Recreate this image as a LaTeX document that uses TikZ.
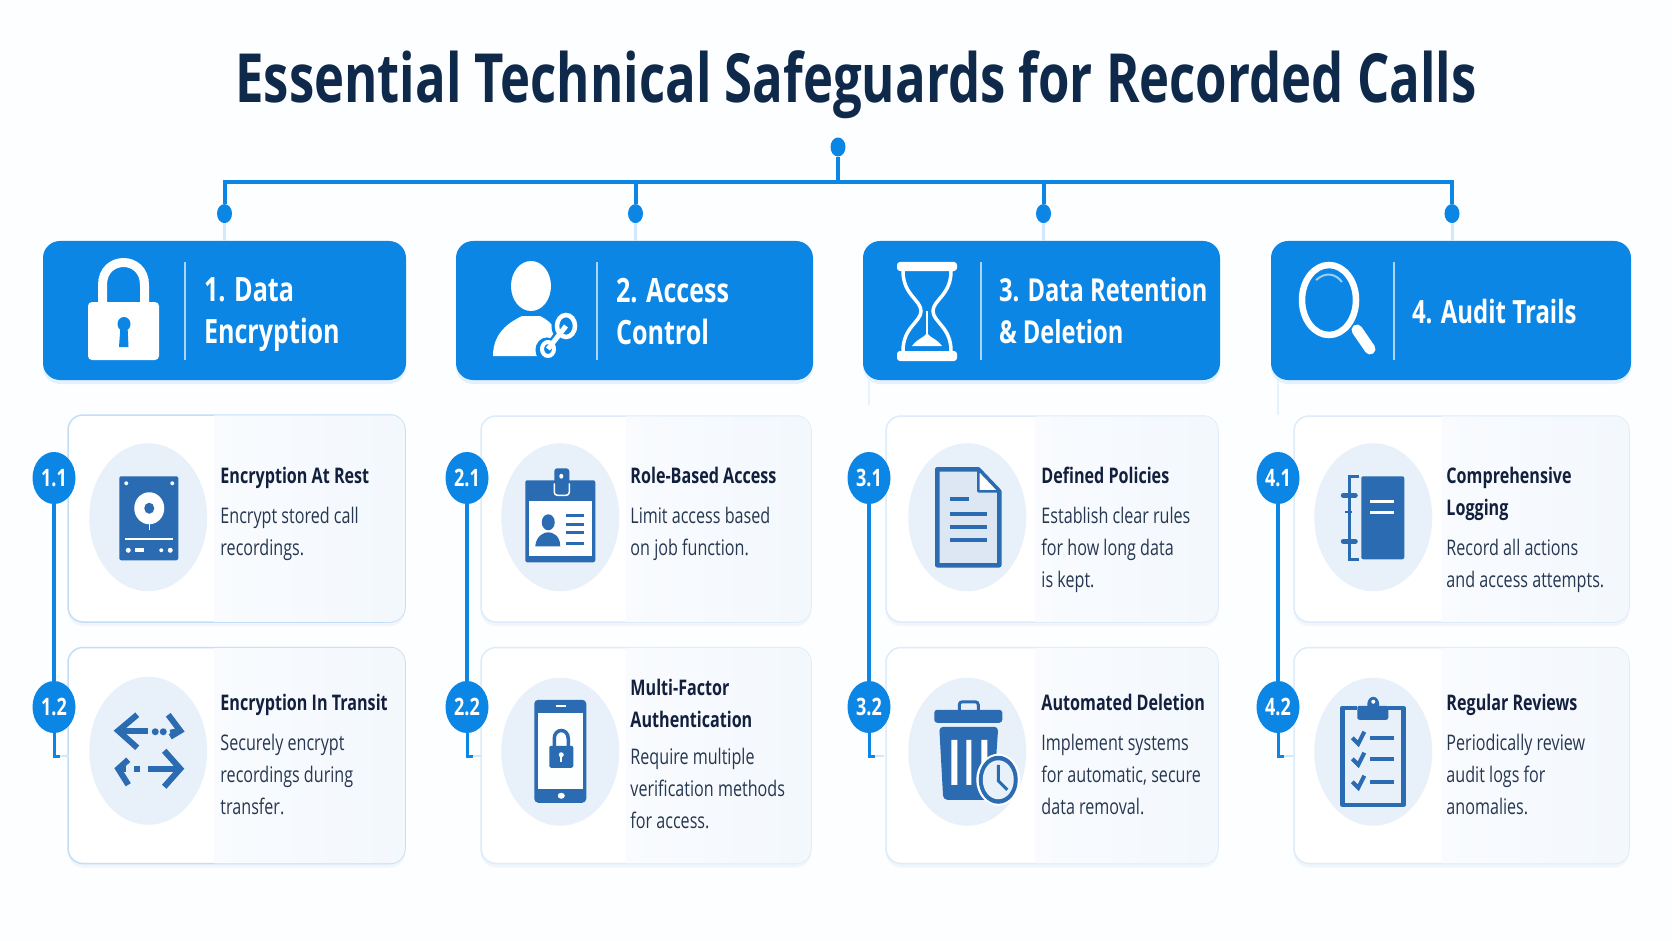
\documentclass[tikz,border=0pt]{standalone}
\usepackage{fontspec}
\setmainfont[FakeStretch=0.75]{Open Sans}
\usetikzlibrary{shapes.geometric, positioning, calc, shadows}
\definecolor{headblue}{RGB}{11, 134, 229}
\definecolor{iconblue}{RGB}{42, 107, 178}
\definecolor{discblue}{RGB}{232, 241, 250}
\definecolor{cardtint}{RGB}{243, 248, 253}
\definecolor{cardtintleft}{RGB}{249, 251, 254}
\definecolor{cardedge}{RGB}{222, 235, 248}
\definecolor{cardedgestrong}{RGB}{196, 222, 246}
\definecolor{titleink}{RGB}{14, 41, 74}
\definecolor{headink}{RGB}{18, 32, 62}
\definecolor{bodyink}{RGB}{38, 55, 80}
\definecolor{paper}{RGB}{253, 254, 255}

\begin{document}
\begin{tikzpicture}[
    x=1pt, y=-1pt,
    headbox/.style={rectangle, fill=headblue, rounded corners=17pt, minimum height=139pt, drop shadow={shadow xshift=0pt, shadow yshift=-4pt, opacity=.1, fill=headblue}},
    headtext/.style={inner sep=0pt, align=left, text=white, font=\fontsize{33.5}{42}\selectfont\bfseries, execute at begin node=\strut, execute at end node=\strut},
    cardbox/.style={rectangle, draw=cardedge, line width=1.5pt, rounded corners=15pt, fill=white, drop shadow={shadow xshift=0pt, shadow yshift=-4pt, opacity=.4, fill=cardedge}},
    tint/.style={left color=cardtintleft, right color=cardtint},
    disc/.style={ellipse, fill=discblue, minimum width=118pt, minimum height=148pt, inner sep=0pt},
    badge/.style={ellipse, fill=headblue, text=white, minimum width=43pt, minimum height=52pt, inner sep=0pt, font=\fontsize{24}{24}\selectfont\bfseries},
    cardhead/.style={inner sep=0pt, align=left, text=headink, font=\fontsize{21.5}{32}\selectfont\bfseries, execute at begin node=\strut, execute at end node=\strut},
    cardbody/.style={inner sep=0pt, align=left, text=bodyink, font=\fontsize{21.5}{32}\selectfont, execute at begin node=\strut, execute at end node=\strut},
    treeline/.style={draw=headblue, line width=4pt},
    faintline/.style={draw=headblue!18, line width=3pt},
    sideline/.style={draw=headblue, line width=3.5pt},
    sepline/.style={draw=white!65!headblue, line width=1.5pt},
    dotnode/.style={ellipse, fill=headblue, minimum width=15pt, minimum height=19pt, inner sep=0pt},
    iconline/.style={draw=iconblue, line width=3.5pt},
    iconfill/.style={fill=iconblue},
    whiteline/.style={draw=white, line width=3pt}
]
\fill[paper] (0,0) rectangle (1672,941);
\useasboundingbox (0,0) rectangle (1672,941);

% ========== TITLE ==========
\node[text=titleink, font=\fontsize{67.8}{68}\selectfont\bfseries, inner sep=0pt] (title) at (856,85) {Essential Technical Safeguards for Recorded Calls};

% ========== HEADERS ==========
\node[headbox, minimum width=363pt] (head1) at (224.5,310.5) {};
\node[headbox, minimum width=357pt] (head2) at (634.5,310.5) {};
\node[headbox, minimum width=357pt] (head3) at (1041.5,310.5) {};
\node[headbox, minimum width=360pt] (head4) at (1451,310.5) {};

\node[headtext, below right=37pt and 161pt of head1.north west] (htext1) {1. Data\\Encryption};
\node[headtext, below right=37pt and 160pt of head2.north west] (htext2) {2. Access\\Control};
\node[headtext, below right=36pt and 136pt of head3.north west, font=\fontsize{31.6}{42}\selectfont\bfseries] (htext3) {3. Data Retention\\\& Deletion};
\node[headtext, below right=53pt and 141pt of head4.north west, font=\fontsize{32}{42}\selectfont\bfseries] (htext4) {4. Audit Trails};

\draw[sepline] ($(head1.north west)+(142,21)$) -- ($(head1.south west)+(142,-20)$);
\draw[sepline] ($(head2.north west)+(141,21)$) -- ($(head2.south west)+(141,-20)$);
\draw[sepline] ($(head3.north west)+(118,21)$) -- ($(head3.south west)+(118,-20)$);
\draw[sepline] ($(head4.north west)+(123,21)$) -- ($(head4.south west)+(123,-20)$);

% ========== TREE ==========
\node[dotnode] (rootdot) at (838,147) {};
\coordinate (bus) at (838,182);
\node[dotnode, above=17.5pt of head1] (dot1) {};
\node[dotnode, above=17.5pt of head2, xshift=1pt] (dot2) {};
\node[dotnode, above=17.5pt of head3, xshift=2pt] (dot3) {};
\node[dotnode, above=17.5pt of head4, xshift=1pt] (dot4) {};

\draw[faintline] (dot1.south) -- (dot1 |- head1.north);
\draw[faintline] (dot2.south) -- (dot2 |- head2.north);
\draw[faintline] (dot3.south) -- (dot3 |- head3.north);
\draw[faintline] (dot4.south) -- (dot4 |- head4.north);
\draw[treeline] (rootdot) -- (bus);
\draw[treeline] (dot1) -- (dot1 |- bus) -- (dot4 |- bus) -- (dot4);
\draw[treeline] (dot2) -- (dot2 |- bus);
\draw[treeline] (dot3) -- (dot3 |- bus);

% ========== CARDS ==========
\node[cardbox, draw=cardedgestrong, minimum width=337pt, minimum height=207pt] (card11) at (236.5,518.5) {};
\node[cardbox, draw=cardedgestrong, minimum width=337pt, minimum height=216pt, below=24pt of card11] (card12) {};
\node[cardbox, minimum width=330pt, minimum height=206pt] (card21) at (646,519) {};
\node[cardbox, minimum width=330pt, minimum height=216pt, below=24pt of card21] (card22) {};
\node[cardbox, minimum width=332pt, minimum height=206pt] (card31) at (1052,519) {};
\node[cardbox, minimum width=332pt, minimum height=216pt, below=24pt of card31] (card32) {};
\node[cardbox, minimum width=335pt, minimum height=206pt] (card41) at (1461.5,519) {};
\node[cardbox, minimum width=335pt, minimum height=216pt, below=24pt of card41] (card42) {};

% tinted right parts
\shade[tint] ($(card11.north west)+(147,1)$) [rounded corners=14pt] -- ($(card11.north east)+(-1,1)$) -- ($(card11.south east)+(-1,-1)$) [sharp corners] -- ($(card11.south west)+(147,-1)$) -- cycle;
\shade[tint] ($(card12.north west)+(147,1)$) [rounded corners=14pt] -- ($(card12.north east)+(-1,1)$) -- ($(card12.south east)+(-1,-1)$) [sharp corners] -- ($(card12.south west)+(147,-1)$) -- cycle;
\shade[tint] ($(card21.north west)+(146,1)$) [rounded corners=14pt] -- ($(card21.north east)+(-1,1)$) -- ($(card21.south east)+(-1,-1)$) [sharp corners] -- ($(card21.south west)+(146,-1)$) -- cycle;
\shade[tint] ($(card22.north west)+(146,1)$) [rounded corners=14pt] -- ($(card22.north east)+(-1,1)$) -- ($(card22.south east)+(-1,-1)$) [sharp corners] -- ($(card22.south west)+(146,-1)$) -- cycle;
\shade[tint] ($(card31.north west)+(150,1)$) [rounded corners=14pt] -- ($(card31.north east)+(-1,1)$) -- ($(card31.south east)+(-1,-1)$) [sharp corners] -- ($(card31.south west)+(150,-1)$) -- cycle;
\shade[tint] ($(card32.north west)+(150,1)$) [rounded corners=14pt] -- ($(card32.north east)+(-1,1)$) -- ($(card32.south east)+(-1,-1)$) [sharp corners] -- ($(card32.south west)+(150,-1)$) -- cycle;
\shade[tint] ($(card41.north west)+(149,1)$) [rounded corners=14pt] -- ($(card41.north east)+(-1,1)$) -- ($(card41.south east)+(-1,-1)$) [sharp corners] -- ($(card41.south west)+(149,-1)$) -- cycle;
\shade[tint] ($(card42.north west)+(149,1)$) [rounded corners=14pt] -- ($(card42.north east)+(-1,1)$) -- ($(card42.south east)+(-1,-1)$) [sharp corners] -- ($(card42.south west)+(149,-1)$) -- cycle;

% ========== DISCS ==========
\node[disc] (disc11) at ($(card11.north west)+(81,103)$) {};
\node[disc] (disc12) at ($(card12.north west)+(81,104)$) {};
\node[disc] (disc21) at ($(card21.north west)+(80,102)$) {};
\node[disc] (disc22) at ($(card22.north west)+(80,105)$) {};
\node[disc] (disc31) at ($(card31.north west)+(82,102)$) {};
\node[disc] (disc32) at ($(card32.north west)+(82,105)$) {};
\node[disc] (disc41) at ($(card41.north west)+(80,102)$) {};
\node[disc] (disc42) at ($(card42.north west)+(80,105)$) {};

% ========== CARD TEXT ==========
\node[cardhead, below right=46.6pt and 153pt of card11.north west] (chead11) {Encryption At Rest};
\node[cardbody, below=14pt of chead11.south west, anchor=north west] (cbody11) {Encrypt stored call\\recordings.};
\node[cardhead, below right=41pt and 153pt of card12.north west] (chead12) {Encryption In Transit};
\node[cardbody, below=14pt of chead12.south west, anchor=north west] (cbody12) {Securely encrypt\\recordings during\\transfer.};

\node[cardhead, below right=45.6pt and 150pt of card21.north west] (chead21) {Role-Based Access};
\node[cardbody, below=14pt of chead21.south west, anchor=north west] (cbody21) {Limit access based\\on job function.};
\node[cardhead, below right=32pt and 150pt of card22.north west] (chead22) {Multi-Factor\\Authentication};
\node[cardbody, below=11pt of chead22.south west, anchor=north west] (cbody22) {Require multiple\\verification methods\\for access.};

\node[cardhead, below right=45.6pt and 156pt of card31.north west] (chead31) {Defined Policies};
\node[cardbody, below=14pt of chead31.south west, anchor=north west] (cbody31) {Establish clear rules\\for how long data\\is kept.};
\node[cardhead, below right=41pt and 156pt of card32.north west] (chead32) {Automated Deletion};
\node[cardbody, below=14pt of chead32.south west, anchor=north west] (cbody32) {Implement systems\\for automatic, secure\\data removal.};

\node[cardhead, below right=51.6pt and 153pt of card41.north west] (chead41) {Comprehensive\\Logging};
\node[cardbody, below=14pt of chead41.south west, anchor=north west] (cbody41) {Record all actions\\and access attempts.};
\node[cardhead, below right=41pt and 153pt of card42.north west] (chead42) {Regular Reviews};
\node[cardbody, below=14pt of chead42.south west, anchor=north west] (cbody42) {Periodically review\\audit logs for\\anomalies.};

% ========== BADGES ==========
\node[badge] (badge11) at (54,478) {1.1};
\node[badge] (badge12) at (54,707) {1.2};
\node[badge] (badge21) at (467,478) {2.1};
\node[badge] (badge22) at (467,707) {2.2};
\node[badge] (badge31) at (869,478) {3.1};
\node[badge] (badge32) at (869,707) {3.2};
\node[badge] (badge41) at (1278,478) {4.1};
\node[badge] (badge42) at (1278,707) {4.2};

\coordinate (foot1) at (60,756);
\coordinate (foot2) at (473,756);
\coordinate (foot3) at (875,756);
\coordinate (foot4) at (1284,756);

\draw[sideline] (badge11.south) -- (badge12.north);
\draw[sideline] (badge21.south) -- (badge22.north);
\draw[sideline] (badge31.south) -- (badge32.north);
\draw[sideline] (badge41.south) -- (badge42.north);
\draw[faintline, line width=2pt] (foot1) -- ++(9,0);
\draw[faintline, line width=2pt] (foot2) -- ++(9,0);
\draw[faintline, line width=2pt] (foot3) -- ++(9,0);
\draw[faintline, line width=2pt] (foot4) -- ++(9,0);
\draw[sideline, line width=3pt] (badge12.south) |- (foot1);
\draw[sideline, line width=3pt] (badge22.south) |- (foot2);
\draw[sideline, line width=3pt] (badge32.south) |- (foot3);
\draw[sideline, line width=3pt] (badge42.south) |- (foot4);
\draw[faintline, line width=2pt, headblue!10] (badge31.north |- head3.south) -- ++(0,25);
\draw[faintline, line width=2pt, headblue!10] (badge41.north |- head4.south) -- ++(0,35);

% ========== HEADER ICONS ==========
% padlock
\fill[white, rounded corners=4pt] (88,302) rectangle (159,360);
\draw[white, line width=9pt] (102.5,304) -- (102.5,285) .. controls (102.5,255) and (144.5,255) .. (144.5,285) -- (144.5,304);
\fill[headblue] (124,324) ellipse [x radius=6.5, y radius=7];
\fill[headblue] (120.5,326) -- (127.5,326) -- (128.5,347) -- (119,347) -- cycle;

% person with key
\fill[white] (531,286) ellipse [x radius=20, y radius=25];
\fill[white] (493,356) .. controls (493,332) and (510,322) .. (522,316) -- (540,316) .. controls (548,320) and (552,324) .. (556,330) -- (538,356) -- cycle;
\draw[headblue, line width=8pt] (566,326) -- (546,350);
\draw[headblue, line width=5pt] (566,326) ellipse [x radius=12, y radius=14];
\draw[headblue, line width=5pt] (547,350) ellipse [x radius=9, y radius=10];
\draw[white, line width=5pt] (566,326) -- (548,349);
\draw[white, line width=4.5pt] (566,326) ellipse [x radius=9, y radius=11];
\draw[white, line width=4pt] (548,349) ellipse [x radius=6, y radius=7];

% hourglass
\fill[white, rounded corners=3pt] (897,262) rectangle (957,271);
\fill[white, rounded corners=3pt] (897,351) rectangle (957,361);
\draw[white, line width=3.5pt] (903,271) .. controls (903,295) and (921,300) .. (921,311) .. controls (921,322) and (903,327) .. (903,351);
\draw[white, line width=3.5pt] (951,271) .. controls (951,295) and (933,300) .. (933,311) .. controls (933,322) and (951,327) .. (951,351);
\fill[white] (912,346) .. controls (918,338) and (924,338) .. (927,333) .. controls (930,338) and (936,338) .. (942,346) -- cycle;
\draw[white, line width=1.5pt] (927,311) -- (927,335);

% magnifier
\draw[white, line width=6.5pt] (1329,300) ellipse [x radius=27, y radius=35];
\draw[white, line width=11pt, line cap=round] (1357,330) -- (1370,349);
\draw[white!60!headblue, line width=2pt] (1316,280) .. controls (1325,272) and (1335,273) .. (1342,282);

% ========== CARD ICONS ==========
% drive
\begin{scope}[shift={(disc11.center)}]
\fill[iconfill, rounded corners=2pt] (-29,-41) rectangle (30,43);
\fill[white] (1,-9) ellipse [x radius=15, y radius=16];
\draw[whiteline, line width=1pt] (1,5) -- (1,13);
\fill[iconblue] (1,-9) ellipse [x radius=5, y radius=5.5];
\draw[whiteline, line width=2pt] (-23,22) -- (25,22);
\fill[white] (-22,-34) circle (2) (24,-34) circle (2) (-20,33) circle (2.5) (13,33) circle (2) (22,33) circle (2.5);
\fill[white] (-13,31) rectangle (-4,35);
\end{scope}

% transfer arrows
\begin{scope}[shift={(disc12.center)}, line width=6pt]
\draw[iconblue] (-11,-36) -- (-30,-20) -- (-11,-3);
\draw[iconblue] (-30,-20) -- (0,-20);
\fill[iconblue] (7,-19) circle (3.5) (15,-19) circle (3.5);
\draw[iconblue] (20,-36) -- (32,-20) -- (22,-14) (22,-18) -- (32,-20);
\draw[iconblue] (-20,9) -- (-30,18) -- (-20,34);
\draw[iconblue] (-30,18) -- (-22,18);
\fill[iconblue] (-14,15) rectangle (-8,21);
\draw[iconblue] (0,18) -- (32,18);
\draw[iconblue] (16,0) -- (32,18) -- (16,36);
\end{scope}

% id badge
\begin{scope}[shift={(disc21.center)}]
\fill[iconfill, rounded corners=2pt] (-35,-37) rectangle (35,45);
\fill[white] (-31,-16) rectangle (32,39);
\fill[iconfill, rounded corners=3pt] (-6,-49) rectangle (9,-22);
\draw[white, line width=1.5pt, rounded corners=3pt] (-6,-34) -- (-6,-22) -- (9,-22) -- (9,-34);
\fill[white] (1,-41) ellipse [x radius=2, y radius=2.5];
\fill[iconblue] (-12,5) ellipse [x radius=6.5, y radius=8];
\fill[iconblue] (-25,29) .. controls (-24,18) and (-16,15) .. (-12,15) .. controls (-8,15) and (0,18) .. (0,29) -- cycle;
\draw[iconline, line width=3pt] (6,-2) -- (24,-2) (6,7) -- (24,7) (6,15.5) -- (24,15.5) (6,26) -- (24,26);
\end{scope}

% phone
\begin{scope}[shift={(disc22.center)}]
\fill[iconfill, rounded corners=4pt] (-26,-52) rectangle (26,51);
\fill[white!92!discblue] (-22,-39) rectangle (23,37);
\draw[whiteline, line width=2pt] (-4,-46) -- (6,-46);
\fill[white] (1,44) ellipse [x radius=3.5, y radius=3];
\draw[iconline, line width=3.5pt] (-6,-6) -- (-6,-13) .. controls (-6,-24) and (8,-24) .. (8,-13) -- (8,-6);
\fill[iconfill, rounded corners=2pt] (-11,-6) rectangle (13,16);
\fill[white] (1,3) circle (2.5);
\draw[whiteline, line width=2pt] (1,3) -- (1,10);
\end{scope}

% document
\begin{scope}[shift={(disc31.center)}]
\filldraw[iconline, line width=4.5pt, fill=discblue!75!iconblue!50!white, line join=round] (-30,-48) -- (11,-48) -- (32,-26) -- (32,48) -- (-30,48) -- cycle;
\filldraw[iconline, fill=white, line width=2.5pt, line join=round] (11,-48) -- (11,-26) -- (32,-26) -- cycle;
\draw[iconline, line width=4pt] (-17,-18) -- (2,-18) (-17,-3) -- (20,-3) (-17,9.5) -- (20,9.5) (-17,23) -- (20,23);
\end{scope}

% bin
\begin{scope}[shift={(disc32.center)}]
\fill[iconfill, rounded corners=3pt] (-33,-42) rectangle (35,-29);
\draw[iconline, line width=3pt, rounded corners=3pt] (-8,-42) -- (-8,-50) -- (11,-50) -- (11,-42);
\fill[iconfill, rounded corners=4pt] (-28,-25) -- (31,-25) -- (26,48) -- (-24,48) -- cycle;
\fill[white] (-16,-12) rectangle (-10,33) (-1,-12) rectangle (4,33) (14,-12) rectangle (20,33);
\fill[white] (31,28) ellipse [x radius=22, y radius=26];
\fill[iconblue] (31,28) ellipse [x radius=19.5, y radius=24];
\fill[discblue] (31,28) ellipse [x radius=15.5, y radius=19.5];
\draw[iconline, line width=3pt] (31,13) -- (31,29) -- (40,38);
\end{scope}

% notebook
\begin{scope}[shift={(disc41.center)}]
\fill[iconfill, rounded corners=2pt] (-12,-41) rectangle (31,42);
\draw[iconline, line width=3pt] (-14,-41) -- (-24,-41) -- (-24,42) -- (-14,42);
\draw[iconline, line width=5pt, line cap=round] (-30,-22) -- (-18,-22) (-30,24) -- (-18,24);
\draw[iconline, line width=2pt] (-28,-5) -- (-21,-5);
\draw[whiteline] (-3,-16) -- (21,-16) (-3,-5) -- (21,-5);
\end{scope}

% clipboard
\begin{scope}[shift={(disc42.center)}]
\draw[iconline, line width=4.5pt, line join=round] (-16,-44) -- (-31,-44) -- (-31,53) -- (30,53) -- (30,-44) -- (15,-44);
\fill[iconfill, rounded corners=2pt] (-16,-46) rectangle (15,-32);
\fill[iconblue] (0,-47) ellipse [x radius=6, y radius=8];
\fill[white] (0,-50) circle (2);
\draw[iconline, line width=4pt] (-21,-14) -- (-15,-8) -- (-9,-20) (-21,7) -- (-15,13) -- (-9,1) (-21,30) -- (-15,36) -- (-9,24);
\draw[iconline, line width=4pt] (-3,-14) -- (21,-14) (-3,7) -- (21,7) (-3,30) -- (21,30);
\end{scope}

\end{tikzpicture}
\end{document}
